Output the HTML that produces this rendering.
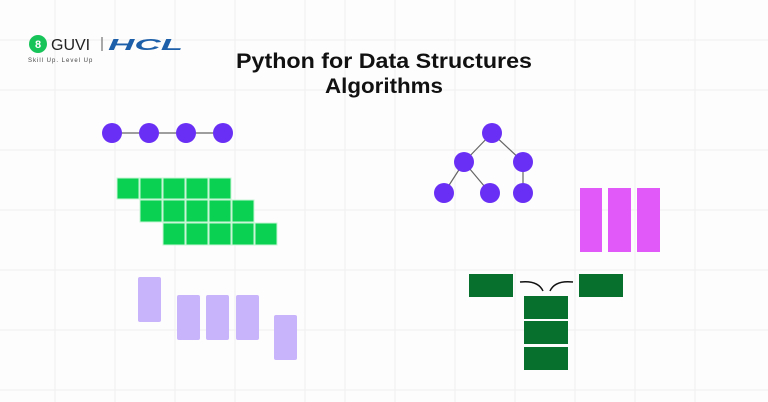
<!DOCTYPE html>
<html><head><meta charset="utf-8"><style>
html,body{margin:0;padding:0;background:#fdfdfd;}
svg{display:block}
</style></head><body>
<svg width="768" height="402" viewBox="0 0 768 402" xmlns="http://www.w3.org/2000/svg">
<rect width="768" height="402" fill="#fdfdfd"/>
<g stroke="#f0f0f0" stroke-width="1" fill="none">
<path d="M0 40H768M0 90H768M0 150H768M0 210H768M0 270H768M0 330H768M0 390H768"/>
<path d="M55 0V402M115 0V402M175 0V402M235 0V402M305 0V402M345 0V402M395 0V402M455 0V402M515 0V402M575 0V402M635 0V402M695 0V402"/>
</g>
<!-- logo -->
<circle cx="38" cy="44" r="9" fill="#17c45a"/>
<text x="38" y="48" font-family="Liberation Sans,sans-serif" font-size="11" font-weight="bold" fill="#fff" text-anchor="middle">8</text>
<text x="51" y="50" font-family="Liberation Sans,sans-serif" font-size="16" fill="#222">GUVI</text>
<line x1="102" y1="37" x2="102" y2="51" stroke="#555" stroke-width="1"/>
<text x="108" y="50" font-family="Liberation Sans,sans-serif" font-size="16" font-weight="bold" font-style="italic" fill="#1d5fa8" textLength="75" lengthAdjust="spacingAndGlyphs">HCL</text>
<text x="28" y="62" font-family="Liberation Sans,sans-serif" font-size="6" fill="#444" letter-spacing="1">Skill Up. Level Up</text>
<!-- title -->
<text x="384" y="68" font-family="Liberation Sans,sans-serif" font-size="21" font-weight="bold" fill="#111" text-anchor="middle" textLength="296" lengthAdjust="spacingAndGlyphs">Python for Data Structures</text>
<text x="384" y="93" font-family="Liberation Sans,sans-serif" font-size="21" font-weight="bold" fill="#111" text-anchor="middle" textLength="118" lengthAdjust="spacingAndGlyphs">Algorithms</text>
<!-- linked list -->
<line x1="112" y1="133" x2="223" y2="133" stroke="#666" stroke-width="1.2"/>
<g fill="#6a2ff5"><circle cx="112" cy="133" r="10"/><circle cx="149" cy="133" r="10"/><circle cx="186" cy="133" r="10"/><circle cx="223" cy="133" r="10"/></g>
<!-- green grid -->
<g fill="#0ad152" stroke="#c8f5d5" stroke-width="1">
<rect x="117" y="178" width="22" height="21"/><rect x="140" y="178" width="22" height="21"/><rect x="163" y="178" width="22" height="21"/><rect x="186" y="178" width="22" height="21"/><rect x="209" y="178" width="22" height="21"/>
<rect x="140" y="200" width="22" height="22"/><rect x="163" y="200" width="22" height="22"/><rect x="186" y="200" width="22" height="22"/><rect x="209" y="200" width="22" height="22"/><rect x="232" y="200" width="22" height="22"/>
<rect x="163" y="223" width="22" height="22"/><rect x="186" y="223" width="22" height="22"/><rect x="209" y="223" width="22" height="22"/><rect x="232" y="223" width="22" height="22"/><rect x="255" y="223" width="22" height="22"/>
</g>
<!-- lavender -->
<g fill="#c7b4fb">
<rect x="138" y="277" width="23" height="45" rx="2"/>
<rect x="177" y="295" width="23" height="45" rx="2"/>
<rect x="206" y="295" width="23" height="45" rx="2"/>
<rect x="236" y="295" width="23" height="45" rx="2"/>
<rect x="274" y="315" width="23" height="45" rx="2"/>
</g>
<!-- tree -->
<g stroke="#666" stroke-width="1.2">
<line x1="492" y1="133" x2="464" y2="162"/><line x1="492" y1="133" x2="523" y2="162"/>
<line x1="464" y1="162" x2="444" y2="193"/><line x1="464" y1="162" x2="490" y2="193"/><line x1="523" y1="162" x2="523" y2="193"/>
</g>
<g fill="#6a2ff5">
<circle cx="492" cy="133" r="10"/><circle cx="464" cy="162" r="10"/><circle cx="523" cy="162" r="10"/>
<circle cx="444" cy="193" r="10"/><circle cx="490" cy="193" r="10"/><circle cx="523" cy="193" r="10"/>
</g>
<!-- pink -->
<g fill="#e159f8">
<rect x="580" y="188" width="22" height="64"/><rect x="608" y="188" width="23" height="64"/><rect x="637" y="188" width="23" height="64"/>
</g>
<!-- dark green -->
<g fill="#07702d">
<rect x="469" y="274" width="44" height="23"/><rect x="579" y="274" width="44" height="23"/>
<rect x="524" y="296" width="44" height="23"/><rect x="524" y="321" width="44" height="23"/><rect x="524" y="347" width="44" height="23"/>
</g>
<path d="M520 282 Q538 280 543 291 M573 282 Q555 280 550 291" stroke="#111" stroke-width="1.5" fill="none"/>
</svg>
</body></html>
